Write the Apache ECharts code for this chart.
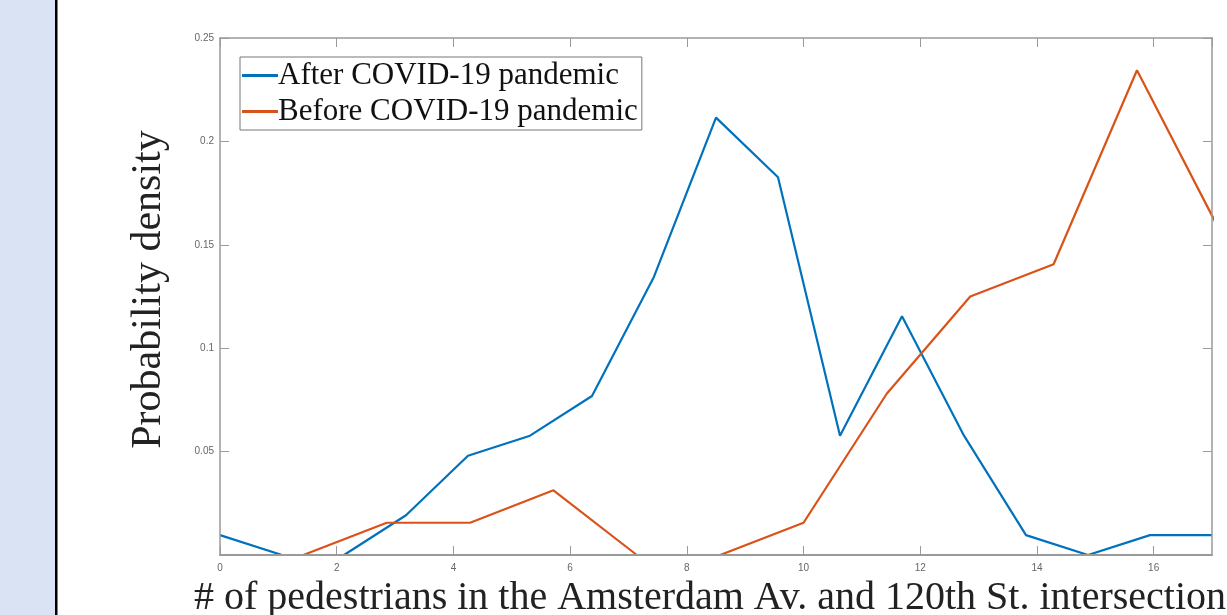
<!DOCTYPE html>
<html>
<head>
<meta charset="utf-8">
<title>Pedestrians at Amsterdam Av. and 120th St.</title>
<script src="https://cdn.jsdelivr.net/npm/echarts@6/dist/echarts.min.js"></script>
<style>
  html, body { margin: 0; padding: 0; background: #fff; }
  #chart { width: 1227px; height: 615px; }
</style>
</head>
<body>
<div id="chart"></div>
<script>
// histogram bin centres (number of pedestrians) and densities
var afterX = [0, 1.0625, 2.125, 3.1875, 4.25, 5.3125, 6.375, 7.4375, 8.5, 9.5625, 10.625, 11.6875, 12.75, 13.8125, 14.875, 15.9375, 17];
var afterY = [0.0096, 0, 0, 0.0192, 0.048, 0.0577, 0.0769, 0.1346, 0.2115, 0.1827, 0.0577, 0.1154, 0.0577, 0.0096, 0, 0.0096, 0.0096];

var beforeX = [0, 1.4286, 2.8571, 4.2857, 5.7143, 7.1429, 8.5714, 10, 11.4286, 12.8571, 14.2857, 15.7143, 17.1429];
var beforeY = [0, 0, 0.0156, 0.0156, 0.0313, 0, 0, 0.0156, 0.0781, 0.125, 0.1406, 0.2344, 0.1563];

var seriesNames = ['After COVID-19 pandemic', 'Before COVID-19 pandemic'];
var seriesColors = ['#0072BD', '#D95319'];

function pairs(xs, ys) {
    var out = [];
    for (var i = 0; i < xs.length; i++) out.push([xs[i], ys[i]]);
    return out;
}

var axisGray = '#9a9a9a';
var serif = 'Liberation Serif, Times New Roman, serif';
var tickLabel = { color: '#666', fontSize: 10, fontFamily: 'Arial, Liberation Sans, sans-serif' };

var chart = echarts.init(document.getElementById('chart'));
chart.setOption({
    animation: false,
    backgroundColor: '#fff',
    graphic: [
        { type: 'rect', left: 0, top: 0, shape: { width: 55, height: 615 }, style: { fill: '#dae3f3' }, z: -1 },
        { type: 'rect', left: 55, top: 0, shape: { width: 2.5, height: 615 }, style: { fill: '#000' }, z: -1 }
    ],
    grid: { left: 220, right: 15, top: 38, bottom: 60, outerBoundsMode: 'none', containLabel: false },
    legend: {
        orient: 'vertical',
        left: 240,
        top: 57,
        padding: [3, 4, 3, 2],
        itemGap: 5,
        itemWidth: 36,
        itemHeight: 3,
        icon: 'rect',
        backgroundColor: '#fff',
        borderColor: '#777',
        borderWidth: 1,
        textStyle: { fontFamily: serif, fontSize: 31, color: '#111', padding: [0, 0, 0, -5] },
        data: seriesNames
    },
    xAxis: [{
        type: 'value', min: 0, max: 17, interval: 2, z: 5,
        name: '# of pedestrians in the Amsterdam Av. and 120th St. intersection',
        nameLocation: 'middle', nameGap: 23,
        nameTextStyle: { fontFamily: serif, fontSize: 40, color: '#222', padding: [0, 12, 0, 0] },
        axisLine: { onZero: false, lineStyle: { color: axisGray, width: 2 } },
        axisTick: { inside: true, length: 9, lineStyle: { color: axisGray } },
        axisLabel: Object.assign({ margin: 8, showMaxLabel: false }, tickLabel),
        splitLine: { show: false }
    }, {
        type: 'value', position: 'top', min: 0, max: 17, interval: 2, z: 5,
        axisLine: { onZero: false, lineStyle: { color: axisGray, width: 1.5 } },
        axisTick: { inside: true, length: 9, lineStyle: { color: axisGray } },
        axisLabel: { show: false },
        splitLine: { show: false }
    }],
    yAxis: [{
        type: 'value', min: 0, max: 0.25, interval: 0.05, z: 5,
        name: 'Probability density',
        nameLocation: 'middle', nameGap: 50, nameRotate: 90,
        nameTextStyle: { fontFamily: serif, fontSize: 42, color: '#222', padding: [0, 0, 0, 14] },
        axisLine: { show: true, onZero: false, lineStyle: { color: axisGray, width: 1.5 } },
        axisTick: { show: true, inside: true, length: 9, lineStyle: { color: axisGray } },
        axisLabel: Object.assign({ margin: 6, showMinLabel: false }, tickLabel),
        splitLine: { show: false }
    }, {
        type: 'value', position: 'right', min: 0, max: 0.25, interval: 0.05, z: 5,
        axisLine: { show: true, onZero: false, lineStyle: { color: axisGray, width: 1.5 } },
        axisTick: { show: true, inside: true, length: 9, lineStyle: { color: axisGray } },
        axisLabel: { show: false },
        splitLine: { show: false }
    }],
    series: [{
        name: seriesNames[0], type: 'line', data: pairs(afterX, afterY), z: 1,
        showSymbol: false, clip: true, color: seriesColors[0],
        lineStyle: { width: 2.2, color: seriesColors[0] }
    }, {
        name: seriesNames[1], type: 'line', data: pairs(beforeX, beforeY), z: 1,
        showSymbol: false, clip: true, color: seriesColors[1],
        lineStyle: { width: 2.2, color: seriesColors[1] }
    }]
});
</script>
</body>
</html>
